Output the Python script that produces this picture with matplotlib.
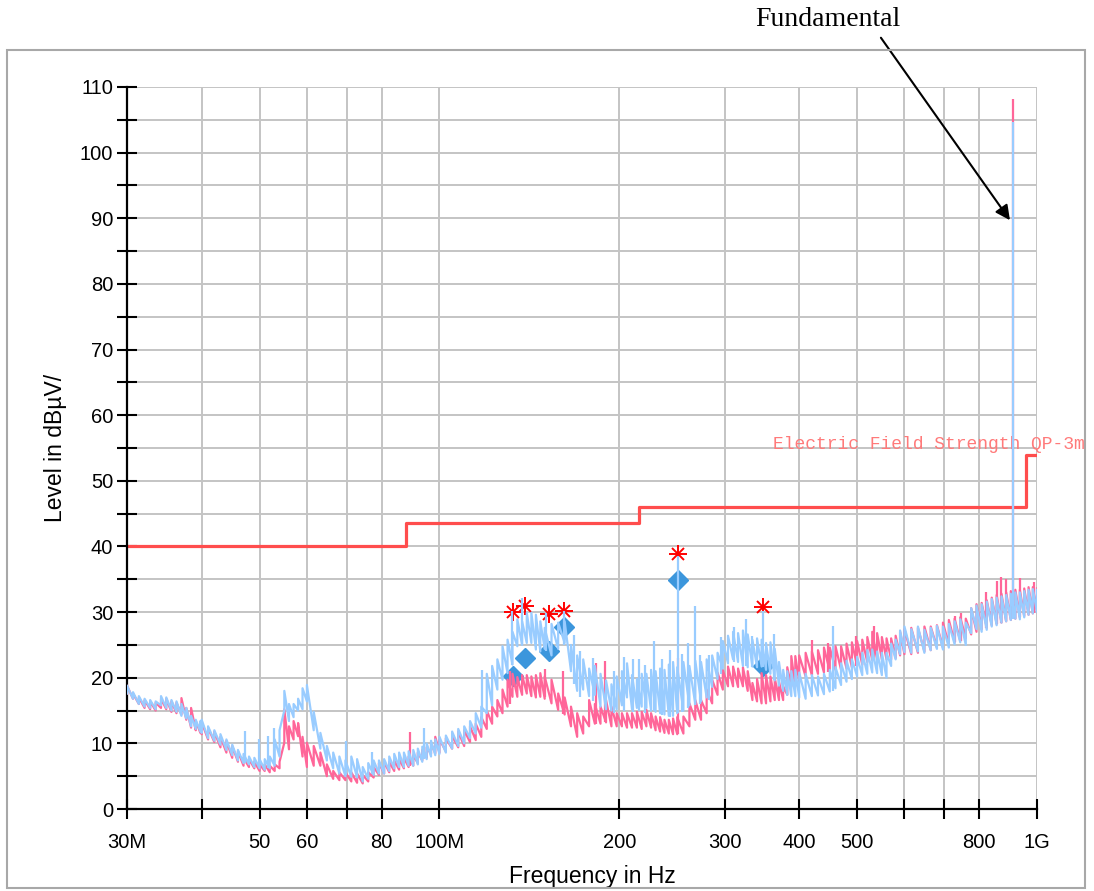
import numpy as np
import matplotlib.pyplot as plt
from matplotlib.patches import Rectangle
from matplotlib.ticker import NullLocator

plt.switch_backend("Agg")
plt.rcParams["font.family"] = ["Liberation Sans", "DejaVu Sans"]

# frequency bins in MHz (shared by both scans)
freq_mhz = [
    30.0, 30.7, 31.4, 32.1, 32.8, 33.5, 34.2, 34.9, 35.6, 36.3, 37.0, 37.7, 38.4, 39.1, 39.8,
    40, 41, 42, 43, 44, 45, 46, 47, 48, 49, 50, 51, 52, 53, 54, 55, 56, 57, 58, 59,
    60, 61.6, 63.2, 64.8, 66.4, 68.0, 69.6, 71.2, 72.8, 74.4, 76.0, 77.6, 79.2,
    80.8, 82.4, 84.0, 85.6, 87.2, 88.8, 90.4, 92.0, 93.6, 95.2, 96.8, 98.4,
    100, 102.5, 105, 107.5, 110, 112.5, 115, 117.5, 120, 122.5,
    125, 127.5, 130, 132.5, 135, 137.5, 140, 142.5, 145, 147.5,
    150, 154, 158, 162, 166, 170, 174, 178, 182, 186, 190, 194, 198,
    202, 206, 210, 214, 218, 222, 226, 230, 234, 238, 242, 246,
    250, 256, 262, 268, 274, 280, 286, 292, 298, 304, 310, 316, 322,
    328, 334, 340, 346, 352, 358, 364, 370, 376, 382, 388, 394,
    400, 410, 420, 430, 440, 450, 460, 470, 480, 490,
    500, 510, 520, 530, 540, 550, 560, 570, 580, 590,
    600, 616, 632, 648, 664, 680, 696, 712, 728, 744, 760, 776, 792,
    808, 824, 840, 856, 872, 888, 904, 920, 936, 952, 968, 984, 1000,
]

# vertical scan (light blue): min / max level in each bin
v_low = [
    17.6, 16.8, 16.0, 15.6, 15.4, 15.2, 15.8, 15.4, 15.0, 14.8, 14.2, 13.8, 12.6, 12.2, 11.8,
    11.6, 10.8, 10.4, 9.8, 9.0, 8.2, 7.4, 7.0, 6.8, 6.4, 6.2, 6.0, 6.2, 6.6, 8.0,
    15.0, 13.4, 14.0, 15.0, 15.2,
    16.4, 12.0, 9.2, 7.4, 6.2, 5.4, 5.0, 4.9, 4.8, 4.2, 4.6, 5.2, 5.4,
    5.4, 5.8, 6.2, 6.4, 6.4, 6.6, 6.6, 6.8, 7.2, 7.6, 8.0, 8.2,
    8.4, 8.6, 9.2, 9.6, 10.0, 10.8, 11.5, 12.4, 14.6, 15.8,
    18.2, 19.7, 20.7, 22.0, 24.8, 25.0, 25.3, 25.3, 24.3, 24.0,
    24.4, 23.4, 24.4, 25.3, 21.0, 18.0, 18.2, 17.2, 17.4, 15.6, 15.2, 15.0, 15.2,
    15.8, 17.0, 15.2, 15.4, 15.6, 15.4, 15.0, 14.8, 14.6, 14.4, 14.2, 14.2,
    14.6, 15.0, 15.8, 16.0, 16.4, 17.0, 18.6, 19.8, 21.4, 22.2, 22.8, 22.4, 21.8,
    21.6, 21.7, 21.6, 21.7, 21.2, 20.6, 19.6, 18.8, 18.0, 17.4, 17.2, 17.2,
    17.0, 16.8, 17.2, 17.3, 17.5, 17.9, 18.4, 18.9, 19.4, 19.8,
    20.2, 20.4, 20.6, 20.8, 20.7, 20.4, 20.0, 21.8, 22.8, 23.6,
    23.9, 23.8, 24.0, 23.8, 24.2, 24.4, 24.3, 24.6, 25.1, 25.4, 25.0, 26.8, 27.4,
    27.0, 27.3, 27.8, 28.0, 28.4, 28.6, 28.8, 29.0, 28.9, 29.2, 29.6, 29.8, 30.0,
]
v_high = [
    18.8, 17.8, 17.2, 16.8, 16.6, 16.4, 17.2, 17.0, 16.6, 16.4, 16.0, 15.4, 14.2, 13.6, 13.4,
    13.6, 12.6, 12.0, 11.4, 10.6, 9.8, 9.0, 8.4, 8.0, 7.8, 7.6, 7.6, 8.0, 10.6, 12.0,
    18.0, 16.0, 16.0, 16.8, 18.4,
    18.9, 14.8, 11.6, 9.6, 8.6, 8.0, 7.4, 8.0, 7.6, 6.4, 7.0, 7.4, 7.4,
    7.6, 8.0, 8.4, 8.6, 8.6, 8.8, 9.0, 9.2, 9.5, 10.0, 10.4, 10.6,
    11.0, 11.2, 11.8, 12.2, 12.6, 13.4, 14.6, 15.6, 20.6, 21.8,
    22.8, 24.8, 25.8, 27.0, 28.9, 28.6, 29.9, 29.9, 29.6, 28.6,
    27.6, 28.2, 28.4, 28.6, 25.0, 23.4, 22.8, 21.4, 21.8, 20.6, 19.6, 19.0, 20.2,
    21.0, 22.2, 20.4, 19.8, 20.6, 20.6, 21.2, 21.0, 21.4, 21.2, 22.0, 22.4,
    21.6, 22.4, 21.8, 22.6, 22.4, 22.8, 23.4, 23.8, 25.6, 26.4, 27.0, 26.8, 27.2,
    26.6, 25.8, 26.0, 25.8, 25.3, 25.4, 24.4, 22.4, 21.2, 21.0, 21.0, 21.2,
    20.8, 20.6, 20.4, 20.2, 20.6, 21.2, 21.6, 22.2, 22.6, 22.8,
    23.2, 23.8, 24.2, 24.3, 24.0, 23.8, 23.8, 25.2, 25.8, 27.2,
    27.8, 27.4, 27.8, 27.3, 27.6, 27.9, 27.8, 28.2, 28.6, 28.9, 28.4, 30.6, 31.0,
    31.2, 31.6, 32.0, 32.2, 32.4, 32.6, 32.8, 33.0, 33.0, 33.2, 33.4, 33.5, 33.4,
]

# horizontal scan (pink): min / max level in each bin
h_low = [
    17.6, 16.8, 16.0, 15.4, 15.2, 15.0, 15.4, 15.2, 14.8, 14.6, 14.4, 13.6, 12.4, 12.0, 11.6,
    11.4, 10.6, 10.2, 9.4, 8.6, 7.8, 7.2, 6.6, 6.4, 6.2, 5.8, 5.8, 5.6, 5.8, 6.2,
    10.1, 9.1, 10.6, 11.1, 8.0,
    6.4, 6.6, 6.6, 5.0, 4.6, 4.4, 4.4, 4.2, 4.0, 3.9, 4.2, 4.8, 5.2,
    5.4, 5.6, 5.8, 6.0, 6.2, 6.4, 6.6, 7.0, 7.4, 7.8, 8.4, 8.5,
    8.6, 8.8, 9.2, 9.4, 9.6, 10.2, 10.5, 11.0, 12.2, 13.0,
    14.1, 14.6, 15.6, 17.1, 17.1, 17.4, 17.6, 17.2, 17.0, 17.1,
    16.8, 16.1, 15.1, 14.4, 12.6, 11.0, 11.5, 12.6, 13.0, 13.0, 13.2, 12.6, 12.6,
    12.6, 12.4, 12.4, 12.4, 12.2, 12.6, 12.4, 12.0, 11.8, 11.6, 11.5, 11.4,
    11.4, 11.5, 12.6, 13.6, 13.6, 14.6, 16.1, 17.4, 18.2, 18.7, 18.7, 18.6, 18.7,
    18.0, 16.6, 16.4, 16.1, 16.1, 16.4, 16.6, 16.6, 16.6, 17.4, 18.7, 18.7,
    19.4, 20.2, 20.4, 20.6, 20.8, 21.0, 21.2, 21.2, 21.4, 21.6,
    21.8, 22.0, 22.4, 22.7, 22.8, 22.8, 22.8, 22.8, 23.0, 23.4,
    23.6, 23.6, 23.8, 24.0, 24.2, 24.6, 24.6, 25.0, 25.4, 25.6, 26.0, 26.6, 27.0,
    27.4, 27.6, 28.0, 28.2, 28.4, 28.6, 28.8, 29.0, 29.2, 29.4, 29.6, 29.8, 30.0,
]
h_high = [
    18.8, 17.6, 17.0, 16.6, 16.4, 16.2, 16.8, 16.8, 16.4, 16.2, 16.9, 15.4, 15.4, 13.4, 13.2,
    13.2, 12.4, 11.8, 11.0, 10.4, 9.6, 8.8, 7.8, 7.6, 7.2, 6.8, 6.8, 6.6, 6.8, 7.2,
    15.2, 12.6, 13.4, 13.1, 11.0,
    10.1, 9.6, 8.6, 6.8, 5.8, 5.6, 5.6, 5.6, 5.4, 5.2, 5.6, 6.4, 7.0,
    7.2, 7.2, 7.4, 7.6, 7.8, 8.0, 8.2, 8.6, 9.0, 9.4, 10.0, 11.0,
    10.6, 10.8, 11.2, 11.8, 12.0, 12.6, 13.0, 14.0, 15.0, 15.6,
    16.6, 18.2, 19.7, 20.6, 20.1, 20.4, 20.4, 20.2, 20.4, 20.7,
    20.2, 19.7, 17.6, 17.0, 15.6, 14.6, 14.1, 16.6, 16.0, 15.6, 16.6, 15.6, 14.6,
    14.6, 14.6, 14.6, 14.8, 14.8, 15.1, 14.6, 14.1, 14.0, 13.6, 13.6, 13.8,
    14.0, 14.1, 16.1, 16.6, 16.6, 18.2, 19.7, 20.8, 21.2, 21.7, 21.7, 21.4, 21.6,
    21.0, 19.2, 19.8, 20.7, 20.4, 20.2, 20.0, 19.4, 18.7, 21.6, 23.3, 23.3,
    23.4, 23.8, 24.0, 24.2, 24.6, 24.6, 24.8, 24.8, 25.2, 25.4,
    25.6, 25.8, 26.2, 27.0, 26.8, 26.2, 26.0, 26.0, 26.4, 27.0,
    27.4, 27.6, 27.6, 27.8, 27.8, 28.0, 28.4, 28.8, 29.0, 29.2, 29.0, 30.6, 31.2,
    31.4, 31.8, 32.2, 32.6, 32.8, 33.0, 33.2, 33.4, 33.4, 33.6, 33.8, 33.8, 33.6,
]

# isolated spikes: frequency, top, bottom
v_spike_freq = [47.3, 49.9, 51.6, 52.8, 69.8, 77.0, 94.1, 118, 132, 137.4, 151,
                161.6, 168, 172, 181, 196, 204, 211, 216, 221, 229, 236, 243,
                250.7, 255, 261, 268, 273, 282, 296, 311, 326, 333, 347.9, 363,
                455, 911.5]
v_spike_top = [11.9, 10.6, 11.1, 12.4, 10.3, 8.7, 12.3, 21.2, 30.2, 32.2, 29.9,
               30.2, 26.5, 24.0, 23.0, 21.0, 23.2, 22.8, 22.8, 22.0, 25.6, 22.8, 24.2,
               38.5, 23.6, 25.3, 30.9, 23.4, 23.4, 26.2, 27.8, 28.9, 26.4, 30.2, 26.7,
               27.9, 104.7]
v_spike_bottom = [7.0, 6.4, 6.2, 6.8, 5.2, 5.4, 7.6, 13.0, 22.0, 25.0, 24.0,
                  25.0, 19.0, 17.0, 16.5, 14.6, 15.0, 14.8, 15.0, 14.6, 15.0, 14.4, 14.0,
                  14.6, 14.8, 15.4, 15.8, 16.0, 16.6, 20.6, 22.4, 21.8, 21.6, 21.7, 19.6,
                  18.0, 29.0]
h_spike_freq = [89.3, 131, 150, 161, 183, 189, 250.7, 420, 447, 498, 534,
                730, 745, 822, 856, 870, 888, 911.5, 936, 990]
h_spike_top = [11.8, 21.0, 21.3, 21.0, 22.2, 22.6, 23.0, 25.8, 25.3, 26.3, 27.9,
               29.4, 29.8, 33.0, 34.8, 35.3, 35.0, 108.2, 35.2, 34.6]
h_spike_bottom = [6.5, 16.0, 17.0, 14.5, 13.0, 13.2, 11.5, 20.4, 20.8, 21.8, 22.7,
                  25.4, 25.6, 27.6, 28.2, 28.4, 28.6, 29.0, 29.2, 29.8]

# limit line (class B, 3 m)
limit_freq = [30, 88, 88, 216, 216, 960, 960, 1000]
limit_level = [40, 40, 43.5, 43.5, 46, 46, 54, 54]

# final measurement markers
peak_freq = [132.7, 139.0, 152.5, 161.6, 250.7, 347.9]
peak_level = [30.0, 30.9, 29.7, 30.2, 38.8, 30.8]
qp_freq = [132.7, 139.0, 152.5, 161.9, 250.7, 347.9]
qp_level = [20.3, 23.0, 24.1, 27.7, 34.9, 21.8]

x_ticks = [30, 40, 50, 60, 70, 80, 100, 200, 300, 400, 500, 600, 700, 800, 1000]
x_tick_labels = ["30M", "", "50", "60", "", "80", "100M", "200", "300", "400",
                 "500", "", "", "800", "1G"]

assert len(freq_mhz) == len(v_low) == len(v_high) == len(h_low) == len(h_high)
assert len(v_spike_freq) == len(v_spike_top) == len(v_spike_bottom)
assert len(h_spike_freq) == len(h_spike_top) == len(h_spike_bottom)

PINK = "#ff6699"
BLUE = "#99ccff"


def minmax_path(freq, low, high):
    # each bin drawn as a stroke from its minimum to its maximum
    xs = np.repeat(freq, 2)
    ys = np.column_stack([low, high]).ravel()
    return xs, ys


fig = plt.figure(figsize=(10.94, 8.91), dpi=100)
ax = fig.add_axes([0.1161, 0.0920, 0.8318, 0.8104])

ax.plot(limit_freq, limit_level, color="#ff4d4d", lw=2.3, zorder=2)
ax.plot(qp_freq, qp_level, "D", color="#3c96dc", ms=10.5, zorder=3)
ax.plot(peak_freq, peak_level, "+", color="#ff0000", ms=13, mew=1.4, zorder=3)
ax.plot(peak_freq, peak_level, "x", color="#ff0000", ms=9, mew=1.4, zorder=3)

# pink under, blue on top
hx, hy = minmax_path(freq_mhz, h_low, h_high)
ax.plot(hx, hy, color=PINK, lw=1.6, zorder=4)
ax.vlines(h_spike_freq, h_spike_bottom, h_spike_top, color=PINK, lw=1.6, zorder=4)
vx, vy = minmax_path(freq_mhz, v_low, v_high)
ax.plot(vx, vy, color=BLUE, lw=1.6, zorder=5)
ax.vlines(v_spike_freq, v_spike_bottom, v_spike_top, color=BLUE, lw=1.6, zorder=5)

ax.set_xscale("log")
ax.set_xlim(30, 1000)
ax.set_ylim(0, 110)
ax.set_xticks(x_ticks)
ax.set_xticklabels(x_tick_labels)
ax.xaxis.set_minor_locator(NullLocator())
ax.set_yticks(np.arange(0, 111, 10))
ax.set_yticks(np.arange(5, 110, 10), minor=True)
ax.grid(True, which="both", color="#c4c4c4", lw=1.4, zorder=0)
ax.set_axisbelow(True)
ax.tick_params(which="both", direction="inout", length=14, width=1.5,
               labelsize=14.5, colors="black")
ax.tick_params(axis="x", pad=10)
ax.tick_params(axis="y", pad=3)
for side in ["top", "right"]:
    ax.spines[side].set_visible(False)
for side in ["left", "bottom"]:
    ax.spines[side].set_linewidth(1.6)

ax.set_xlabel("Frequency in Hz", fontsize=16.5)
ax.set_ylabel("Level in dBµV/", fontsize=16.5)
ax.xaxis.set_label_coords(0.511, -0.078)
ax.yaxis.set_label_coords(-0.066, 0.5)

ax.text(361.5, 55.5, "Electric Field Strength QP-3m", color="#ff7a7a",
        family="Liberation Mono", fontsize=13, va="center", clip_on=False)

ax.annotate("", xy=(901, 89.7), xytext=(548, 117.5),
            arrowprops=dict(arrowstyle="-|>", color="black", lw=1.5,
                            mutation_scale=22, shrinkA=0, shrinkB=0),
            annotation_clip=False)
fig.text(828 / 1094, 1 - 20 / 891, "Fundamental", ha="center", va="center",
         family="Liberation Serif", fontsize=20)

fig.add_artist(Rectangle((7 / 1094, 3 / 891), 1078 / 1094, 838 / 891,
                         transform=fig.transFigure, fill=False,
                         ec="#a8a8a8", lw=1.5))

fig.savefig("out.png", dpi=100)
